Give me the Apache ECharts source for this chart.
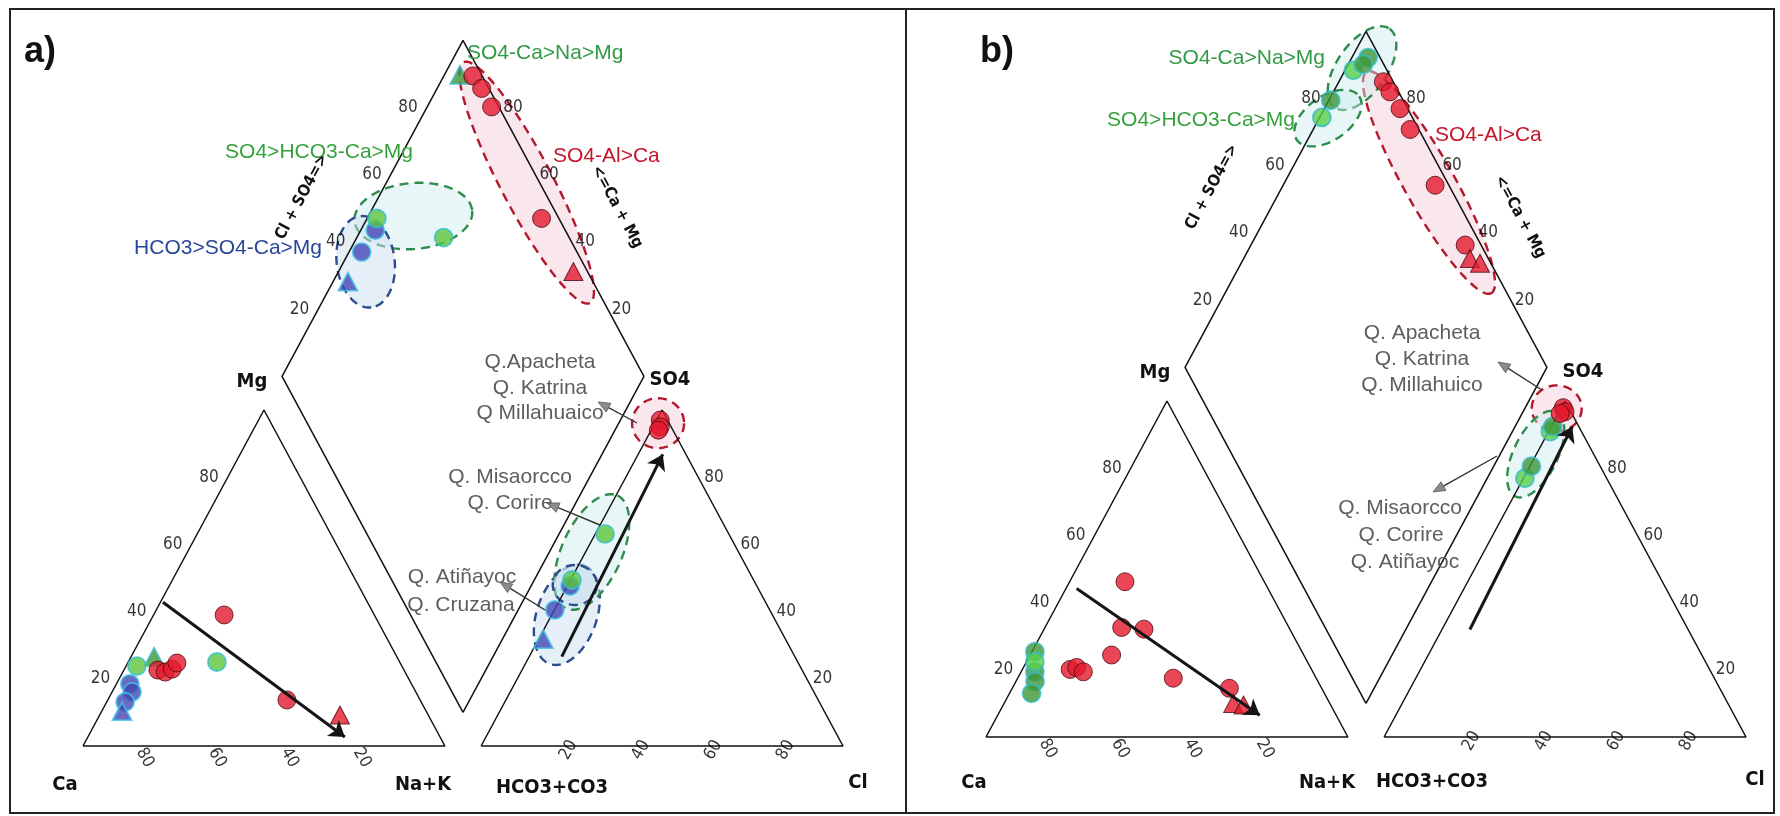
<!DOCTYPE html>
<html><head><meta charset="utf-8">
<script src="https://cdn.jsdelivr.net/npm/echarts@6/dist/echarts.min.js"></script>
<style>html,body{margin:0;padding:0;background:#fff}#c{width:1780px;height:816px}</style>
</head><body><div id="c"></div>
<script>
// ---------------- DATA ----------------
const GAP = 10;
const H = Math.sqrt(3) / 2;
const tickLabels = [20, 40, 60, 80];

// Panel a) cation triangle  [Ca, Mg, Na+K] (%)
const aCatRed      = [[41.5,39.0,19.5],[68.0,22.6,9.4],[66.3,22.0,11.7],[63.9,22.9,13.2],[61.7,24.7,13.6],[36.8,13.7,49.5]];
const aCatRedTri   = [[24.4,9.2,66.4]];
const aCatGreen    = [[73.2,23.8,3.0],[50.5,25.0,24.5]];
const aCatGreenTri = [[67.1,26.5,6.4]];
const aCatBlue     = [[77.8,18.5,3.7],[78.4,16.1,5.5],[81.8,13.1,5.1]];
const aCatBlueTri  = [[84.0,10.4,5.6]];
// Panel a) anion triangle [HCO3+CO3, SO4, Cl] (%)
const aAnRed       = [[2,97,1],[3,95,2],[4,94,2]];
const aAnGreen     = [[34.2,63.1,2.7],[50.2,49.4,0.4]];
const aAnBlue      = [[51.6,47.6,0.8],[59.4,40.5,0.1]];
const aAnBlueTri   = [[66.9,31.8,1.3]];
// Panel a) diamond [Cl+SO4, Ca+Mg] (%)
const aDiaRed      = [[97.4,92.0],[98.0,87.7],[98.0,82.2],[95.2,51.8]];
const aDiaRedTri   = [[96.1,35.1]];
const aDiaGreen    = [[49.7,97.3],[65.3,76.0]];
const aDiaGreenTri = [[94.0,95.7]];
const aDiaBlue     = [[47.5,96.0],[40.5,96.5]];
const aDiaBlueTri  = [[32.3,95.9]];
// Panel a) trend arrows
const aCatTrend = [[56.5,42.8,0.7],[26.3,2.7,71.0]];
const aAnTrend  = [[64.4,26.6,9.0],[6.4,86.8,6.8]];

// Panel b) cation
const bCatRed      = [[38.5,46.2,15.3],[46.2,32.6,21.2],[40.3,32.1,27.6],[53.1,24.4,22.5],[66.7,20.1,13.2],[64.6,20.7,14.7],[63.4,19.4,17.2],[39.5,17.5,43.0],[25.5,14.5,60.0]];
const bCatRedTri   = [[26.7,10.0,63.3],[24.1,9.5,66.4]];
const bCatGreenDk  = [[73.8,25.4,0.8],[76.8,19.4,3.8],[78.2,16.5,5.3],[80.9,13.0,6.1]];
const bCatGreenLt  = [[75.3,22.4,2.3]];
// Panel b) anion
const bAnRed       = [[1.5,98.0,0.5],[1.6,96.8,1.6],[3.2,96.3,0.5]];
const bAnGreenDk   = [[7.2,92.4,0.4],[19.0,80.6,0.4]];
const bAnGreenLt   = [[8.6,90.9,0.5],[22.6,77.0,0.4]];
// Panel b) diamond
const bDiaRed      = [[97.3,87.7],[97.6,84.4],[97.9,79.1],[97.6,73.2],[96.2,58.0],[95.6,40.8]];
const bDiaRedTri   = [[94.9,37.5],[97.0,34.0]];
const bDiaGreenDk  = [[96.7,95.5],[94.4,95.8],[80.0,99.5]];
const bDiaGreenLt  = [[90.7,97.7],[75.0,99.4]];
// Panel b) trend arrows
const bCatTrend = [[52.9,44.2,2.95],[21.1,6.5,72.4]];
const bAnTrend  = [[60.3,32.0,7.7],[1.8,92.4,5.8]];

// ------------- GEOMETRY (ternary -> plane units) -------------
const cat = v => [v[2] + v[1] / 2, v[1] * H];
const an  = v => [100 + GAP + v[2] + v[1] / 2, v[1] * H];
const dia = v => [100 + GAP / 2 + 0.5 * (v[0] - v[1]), GAP * H + H * (v[0] + v[1])];

// ------------- STYLES -------------
const STY = {
  red:    {color:'#e3192d', borderColor:'#4a0a0e', borderWidth:1},
  green:  {color:'#5cc63a', borderColor:'#36bfd6', borderWidth:1.8},
  blue:   {color:'#4346b4', borderColor:'#3cc3e6', borderWidth:1.8},
  greenD: {color:'#3f9636', borderColor:'#34bccb', borderWidth:1.8},
  greenL: {color:'#59d04a', borderColor:'#34bccb', borderWidth:1.8}
};
const ELL = {
  red:   {fill:'rgba(244,200,214,0.45)', stroke:'#b3192b'},
  green: {fill:'rgba(205,236,238,0.45)', stroke:'#2e8c4c'},
  blue:  {fill:'rgba(205,222,242,0.5)',  stroke:'#2a4d8c'}
};
// annotation ellipses: centre in plane units, semi-axes in px, rotation in degrees
const aEllipses = [
  {c:[122.6,145.2], a:136, b:26, rot:62.3, k:'red'},
  {c:[91.3,136.6],  a:59,  b:33, rot:-5,   k:'green'},
  {c:[78.1,124.8],  a:46,  b:29, rot:83,   k:'blue'},
  {c:[158.9,83.2],  a:26,  b:25, rot:0,    k:'red'},
  {c:[133.7,33.8],  a:52,  b:30, rot:-71,  k:'blue'},
  {c:[140.6,50.0],  a:62,  b:30, rot:-65.6,k:'green'},
  {c:[135.9,41.5],  a:22,  b:20, rot:0,    k:'blue'}
];
const bEllipses = [
  {c:[122.4,142.9], a:127, b:25, rot:60.6, k:'red'},
  {c:[103.9,172.4], a:48,  b:25, rot:-55,  k:'green'},
  {c:[94.5,159.5],  a:38,  b:22, rot:-35,  k:'green'},
  {c:[157.7,84.7],  a:25,  b:23, rot:0,    k:'red'},
  {c:[151.9,72.9],  a:47,  b:22, rot:-64,  k:'green'}
];

const NARROW = "'Liberation Sans Narrow','DejaVu Sans Condensed',sans-serif";
const SANS = "'Liberation Sans',Arial,sans-serif";

function outline(gi) {
  const tri1 = [cat([100,0,0]), cat([0,0,100]), cat([0,100,0]), cat([100,0,0])];
  const tri2 = [an([100,0,0]), an([0,0,100]), an([0,100,0]), an([100,0,0])];
  const dm = [dia([0,0]), dia([0,100]), dia([100,100]), dia([100,0]), dia([0,0])];
  return [tri1, tri2, dm].map(d => ({
    type:'line', xAxisIndex:gi, yAxisIndex:gi, data:d, showSymbol:false, symbol:'none',
    lineStyle:{color:'#111', width:1.5}, z:3, silent:true, animation:false, clip:false
  }));
}
function sc(data, conv, gi, kind, sym) {
  return {type:'scatter', xAxisIndex:gi, yAxisIndex:gi, data:data.map(conv),
    symbol: sym || 'circle', symbolSize: sym === 'triangle' ? [19,18] : 18,
    itemStyle: STY[kind], z:5, silent:true, clip:false};
}
function trend(pts, conv, gi) {
  return {type:'lines', coordinateSystem:'cartesian2d', xAxisIndex:gi, yAxisIndex:gi, clip:false,
    data:[{coords:[conv(pts[0]), conv(pts[1])]}], symbol:['none','arrow'], symbolSize:[0,15],
    lineStyle:{color:'#151515', width:3, opacity:1}, z:7, silent:true};
}
function ticks(gi, posFn, lab) {
  return {type:'scatter', xAxisIndex:gi, yAxisIndex:gi, symbolSize:0, clip:false, z:8, silent:true,
    data: tickLabels.map(v => posFn(v).concat([v])),
    label: Object.assign({show:true, formatter:p => p.value[2], color:'#000', fontSize:17, fontFamily:NARROW}, lab)};
}
function tickSet(gi) {
  return [
    ticks(gi, v => cat([100 - v, v, 0]), {position:'inside', align:'right', verticalAlign:'middle', offset:[-9,0]}),
    ticks(gi, v => cat([v, 0, 100 - v]), {position:'inside', align:'center', verticalAlign:'middle', offset:[5,15], rotate:-60}),
    ticks(gi, v => an([100 - v, 0, v]), {position:'inside', align:'center', verticalAlign:'middle', offset:[4,15], rotate:60}),
    ticks(gi, v => an([0, v, 100 - v]), {position:'inside', align:'left', verticalAlign:'middle', offset:[6,0]}),
    ticks(gi, v => dia([v, 100]), {position:'inside', align:'right', verticalAlign:'middle', offset:[-9,0]}),
    ticks(gi, v => dia([100, v]), {position:'inside', align:'left', verticalAlign:'middle', offset:[4,0]})
  ];
}
function ellipses(list, gi) {
  return {type:'custom', xAxisIndex:gi, yAxisIndex:gi, clip:false, z:2, silent:true,
    data: list.map(e => e.c),
    renderItem(params, api) {
      const e = list[params.dataIndex];
      const p = api.coord([api.value(0), api.value(1)]);
      const th = e.rot * Math.PI / 180, pts = [];
      for (let i = 0; i < 90; i++) {
        const t = i / 90 * 2 * Math.PI, x = e.a * Math.cos(t), y = e.b * Math.sin(t);
        pts.push([p[0] + x * Math.cos(th) - y * Math.sin(th), p[1] + x * Math.sin(th) + y * Math.cos(th)]);
      }
      return {type:'polygon', shape:{points:pts},
        style:{fill:ELL[e.k].fill, stroke:ELL[e.k].stroke, lineWidth:2.4, lineDash:[9,6]}};
    }};
}

const series = [
  ellipses(aEllipses, 0), ellipses(bEllipses, 1),
  ...outline(0), ...outline(1),
  // panel a
  sc(aCatBlue, cat, 0, 'blue'), sc(aCatBlueTri, cat, 0, 'blue', 'triangle'),
  sc(aCatGreenTri, cat, 0, 'greenD', 'triangle'), sc(aCatGreen, cat, 0, 'green'),
  sc(aCatRed, cat, 0, 'red'), sc(aCatRedTri, cat, 0, 'red', 'triangle'),
  sc(aAnBlue, an, 0, 'blue'), sc(aAnBlueTri, an, 0, 'blue', 'triangle'),
  sc(aAnGreen, an, 0, 'green'), sc(aAnRed, an, 0, 'red'),
  sc(aDiaGreenTri, dia, 0, 'greenD', 'triangle'),
  sc(aDiaBlue, dia, 0, 'blue'), sc(aDiaBlueTri, dia, 0, 'blue', 'triangle'),
  sc(aDiaGreen, dia, 0, 'green'), sc(aDiaRed, dia, 0, 'red'), sc(aDiaRedTri, dia, 0, 'red', 'triangle'),
  trend(aCatTrend, cat, 0), trend(aAnTrend, an, 0),
  // panel b
  sc(bCatGreenDk, cat, 1, 'greenD'), sc(bCatGreenLt, cat, 1, 'greenL'),
  sc(bCatRed, cat, 1, 'red'), sc(bCatRedTri, cat, 1, 'red', 'triangle'),
  sc(bAnGreenLt, an, 1, 'greenL'), sc(bAnGreenDk, an, 1, 'greenD'), sc(bAnRed, an, 1, 'red'),
  sc(bDiaGreenLt, dia, 1, 'greenL'), sc(bDiaGreenDk, dia, 1, 'greenD'),
  sc(bDiaRed, dia, 1, 'red'), sc(bDiaRedTri, dia, 1, 'red', 'triangle'),
  trend(bCatTrend, cat, 1), trend(bAnTrend, an, 1),
  ...tickSet(0), ...tickSet(1)
];

// ------------- TEXT / ANNOTATIONS (graphic) -------------
function txt(text, x, y, o) {
  o = o || {};
  return {type:'text', x:x, y:y, rotation:(o.rot || 0) * Math.PI / 180, z:100,
    style:{text:text, font:o.font || ('21px ' + SANS), fill:o.fill || '#111',
      align:o.align || 'center', verticalAlign:'middle', textAlign:o.align || 'center', textVerticalAlign:'middle'}};
}
function annArrow(x1, y1, x2, y2) {
  const ang = Math.atan2(y2 - y1, x2 - x1), L = 12, W = 5;
  const bx = x2 - L * Math.cos(ang), by = y2 - L * Math.sin(ang);
  return [
    {type:'line', z:90, shape:{x1:x1, y1:y1, x2:bx, y2:by}, style:{stroke:'#333', lineWidth:1.4}},
    {type:'polygon', z:91, shape:{points:[[x2, y2],[bx - W * Math.sin(ang), by + W * Math.cos(ang)],[bx + W * Math.sin(ang), by - W * Math.cos(ang)]]},
      style:{fill:'#8c8c8c', stroke:'#555', lineWidth:0.8}}
  ];
}
const AX = 'bold 20px ' + NARROW;
const AX2 = 'bold 16px ' + NARROW;
const GREY = '#5e5e5e';
const graphic = [
  {type:'rect', z:0, shape:{x:10, y:9, width:896, height:804}, style:{fill:'none', stroke:'#222', lineWidth:2}},
  {type:'rect', z:0, shape:{x:906, y:9, width:868, height:804}, style:{fill:'none', stroke:'#222', lineWidth:2}},
  // panel a
  txt('a)', 24, 52, {font:'bold 36px ' + SANS, align:'left'}),
  txt('SO4-Ca>Na>Mg', 467, 53, {fill:'#2f9a44', align:'left'}),
  txt('SO4>HCO3-Ca>Mg', 413, 152, {fill:'#35a23c', align:'right'}),
  txt('HCO3>SO4-Ca>Mg', 322, 248, {fill:'#27479a', align:'right'}),
  txt('SO4-Al>Ca', 553, 156, {fill:'#c4162a', align:'left'}),
  txt('Mg', 252, 382, {font:AX}), txt('SO4', 670, 380, {font:AX}),
  txt('Ca', 65, 785, {font:AX}), txt('Na+K', 423, 785, {font:AX}),
  txt('HCO3+CO3', 552, 788, {font:AX}), txt('Cl', 858, 783, {font:AX}),
  txt('Cl + SO4=>', 302, 197, {font:AX2, rot:61.7}), txt('<=Ca + Mg', 617, 207, {font:AX2, rot:-61.7}),
  txt('Q.Apacheta', 540, 362, {fill:GREY}), txt('Q. Katrina', 540, 388, {fill:GREY}), txt('Q Millahuaico', 540, 413, {fill:GREY}),
  txt('Q. Misaorcco', 510, 477, {fill:GREY}), txt('Q. Corire', 510, 503, {fill:GREY}),
  txt('Q. Atiñayoc', 462, 577, {fill:GREY}), txt('Q. Cruzana', 461, 605, {fill:GREY}),
  ...annArrow(637, 423, 598, 402), ...annArrow(600, 525, 547, 503), ...annArrow(545, 610, 500, 582),
  // panel b
  txt('b)', 980, 52, {font:'bold 36px ' + SANS, align:'left'}),
  txt('SO4-Ca>Na>Mg', 1325, 58, {fill:'#2f9a44', align:'right'}),
  txt('SO4>HCO3-Ca>Mg', 1295, 120, {fill:'#35a23c', align:'right'}),
  txt('SO4-Al>Ca', 1435, 135, {fill:'#c4162a', align:'left'}),
  txt('Mg', 1155, 373, {font:AX}), txt('SO4', 1583, 372, {font:AX}),
  txt('Ca', 974, 783, {font:AX}), txt('Na+K', 1327, 783, {font:AX}),
  txt('HCO3+CO3', 1432, 782, {font:AX}), txt('Cl', 1755, 780, {font:AX}),
  txt('Cl + SO4=>', 1212, 187, {font:AX2, rot:61.7}), txt('<=Ca + Mg', 1520, 217, {font:AX2, rot:-61.7}),
  txt('Q. Apacheta', 1422, 333, {fill:GREY}), txt('Q. Katrina', 1422, 359, {fill:GREY}), txt('Q. Millahuico', 1422, 385, {fill:GREY}),
  txt('Q. Misaorcco', 1400, 508, {fill:GREY}), txt('Q. Corire', 1401, 535, {fill:GREY}), txt('Q. Atiñayoc', 1405, 562, {fill:GREY}),
  ...annArrow(1542, 390, 1498, 362), ...annArrow(1497, 456, 1433, 492)
];

const hiddenX = gi => ({type:'value', gridIndex:gi, min:0, max:210, show:false});
const hiddenY = gi => ({type:'value', gridIndex:gi, min:0, max:185, show:false});
const chart = echarts.init(document.getElementById('c'), null, {renderer:'canvas'});
chart.setOption({
  animation:false,
  backgroundColor:'#fff',
  grid:[
    {left:83, width:760, top:746 - 185 * 3.88, height:185 * 3.88},
    {left:986, width:760, top:737 - 185 * 3.88, height:185 * 3.88}
  ],
  xAxis:[hiddenX(0), hiddenX(1)],
  yAxis:[hiddenY(0), hiddenY(1)],
  series: series,
  graphic: graphic
});
</script></body></html>
